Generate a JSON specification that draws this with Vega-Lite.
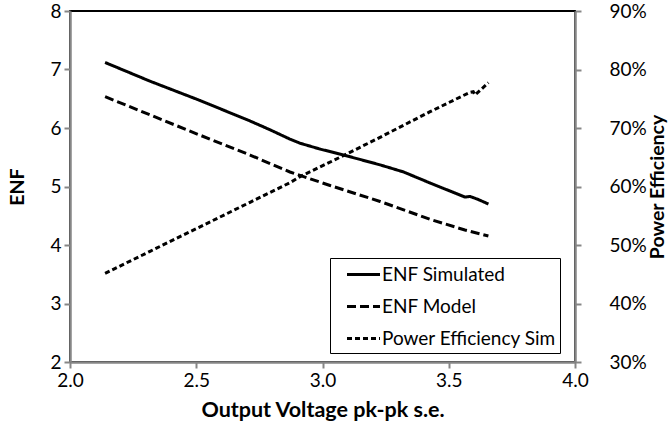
{
  "$schema": "https://vega.github.io/schema/vega-lite/v6.json",
  "width": 505,
  "height": 351,
  "autosize": {"type": "none"},
  "padding": {"left": 70, "top": 11, "right": 93, "bottom": 68},
  "background": "white",
  "config": {
    "font": "Lato",
    "view": {"stroke": "black", "strokeWidth": 2},
    "axis": {
      "grid": false,
      "labelFlush": false,
      "domainColor": "#868686",
      "domainWidth": 2.5,
      "tickColor": "#868686",
      "tickWidth": 2,
      "tickSize": 6,
      "labelColor": "black",
      "labelFont": "Lato",
      "labelFontSize": 19,
      "titleFont": "Lato",
      "titleFontSize": 19.5,
      "titleFontWeight": "bold",
      "titleColor": "black",
      "zindex": 1
    }
  },
  "datasets": {
    "curves": [
      {"series": "ENF Simulated", "volt": 2.139, "value": 7.12},
      {"series": "ENF Simulated", "volt": 2.317, "value": 6.80},
      {"series": "ENF Simulated", "volt": 2.515, "value": 6.47},
      {"series": "ENF Simulated", "volt": 2.713, "value": 6.12},
      {"series": "ENF Simulated", "volt": 2.792, "value": 5.97},
      {"series": "ENF Simulated", "volt": 2.871, "value": 5.81},
      {"series": "ENF Simulated", "volt": 2.911, "value": 5.74},
      {"series": "ENF Simulated", "volt": 2.990, "value": 5.64},
      {"series": "ENF Simulated", "volt": 3.082, "value": 5.54},
      {"series": "ENF Simulated", "volt": 3.228, "value": 5.37},
      {"series": "ENF Simulated", "volt": 3.320, "value": 5.25},
      {"series": "ENF Simulated", "volt": 3.426, "value": 5.06},
      {"series": "ENF Simulated", "volt": 3.564, "value": 4.82},
      {"series": "ENF Simulated", "volt": 3.584, "value": 4.83},
      {"series": "ENF Simulated", "volt": 3.616, "value": 4.78},
      {"series": "ENF Simulated", "volt": 3.657, "value": 4.70},
      {"series": "ENF Model", "volt": 2.139, "value": 6.535},
      {"series": "ENF Model", "volt": 2.317, "value": 6.224},
      {"series": "ENF Model", "volt": 2.515, "value": 5.877},
      {"series": "ENF Model", "volt": 2.713, "value": 5.538},
      {"series": "ENF Model", "volt": 2.871, "value": 5.248},
      {"series": "ENF Model", "volt": 3.030, "value": 5.017},
      {"series": "ENF Model", "volt": 3.228, "value": 4.744},
      {"series": "ENF Model", "volt": 3.426, "value": 4.439},
      {"series": "ENF Model", "volt": 3.564, "value": 4.256},
      {"series": "ENF Model", "volt": 3.657, "value": 4.154},
      {"series": "Power Efficiency Sim", "volt": 2.139, "value": 0.4516},
      {"series": "Power Efficiency Sim", "volt": 2.317, "value": 0.4892},
      {"series": "Power Efficiency Sim", "volt": 2.515, "value": 0.5311},
      {"series": "Power Efficiency Sim", "volt": 2.713, "value": 0.5730},
      {"series": "Power Efficiency Sim", "volt": 2.871, "value": 0.6065},
      {"series": "Power Efficiency Sim", "volt": 2.911, "value": 0.6168},
      {"series": "Power Efficiency Sim", "volt": 3.082, "value": 0.6526},
      {"series": "Power Efficiency Sim", "volt": 3.228, "value": 0.6841},
      {"series": "Power Efficiency Sim", "volt": 3.426, "value": 0.7279},
      {"series": "Power Efficiency Sim", "volt": 3.584, "value": 0.7610},
      {"series": "Power Efficiency Sim", "volt": 3.597, "value": 0.7621},
      {"series": "Power Efficiency Sim", "volt": 3.604, "value": 0.7564},
      {"series": "Power Efficiency Sim", "volt": 3.657, "value": 0.7774}
    ]
  },
  "data": {"name": "curves"},
  "encoding": {
    "x": {
      "field": "volt",
      "type": "quantitative",
      "scale": {"domain": [2, 4], "nice": false},
      "axis": {
        "title": "Output Voltage pk-pk s.e.",
        "titleFontSize": 21.5,
        "values": [2, 2.5, 3, 3.5, 4],
        "format": ".1f",
        "labelPadding": 3,
        "titlePadding": 9
      }
    },
    "strokeDash": {
      "field": "series",
      "type": "nominal",
      "scale": {
        "domain": ["ENF Simulated", "ENF Model", "Power Efficiency Sim"],
        "range": [[1, 0], [9, 4], [5, 3]]
      },
      "legend": {
        "title": null,
        "orient": "none",
        "legendX": 260,
        "legendY": 247,
        "direction": "vertical",
        "symbolType": "M-1.5,0H1.5",
        "symbolSize": 484,
        "symbolStrokeColor": "black",
        "symbolOffset": 17,
        "labelFont": "Lato",
        "labelFontSize": 19,
        "labelColor": "black",
        "labelOffset": 6,
        "labelLimit": 400,
        "labelExpr": "datum.label + '\u00a0\u00a0\u00a0'",
        "rowPadding": 9,
        "padding": 4,
        "strokeColor": "black",
        "fillColor": "white"
      }
    },
    "strokeWidth": {
      "field": "series",
      "type": "nominal",
      "scale": {
        "domain": ["ENF Simulated", "ENF Model", "Power Efficiency Sim"],
        "range": [3, 3, 2]
      },
      "legend": null
    }
  },
  "layer": [
    {
      "transform": [{"filter": "datum.series !== 'Power Efficiency Sim'"}],
      "mark": {"type": "line", "color": "black", "strokeCap": "butt"},
      "encoding": {
        "y": {
          "field": "value",
          "type": "quantitative",
          "scale": {"domain": [2, 8], "nice": false},
          "axis": {
            "title": "ENF",
            "orient": "left",
            "values": [2, 3, 4, 5, 6, 7, 8],
            "labelPadding": 3,
            "titlePadding": 22
          }
        }
      }
    },
    {
      "transform": [{"filter": "datum.series === 'Power Efficiency Sim'"}],
      "mark": {"type": "line", "color": "black", "strokeCap": "butt"},
      "encoding": {
        "y": {
          "field": "value",
          "type": "quantitative",
          "scale": {"domain": [0.3, 0.9], "nice": false},
          "axis": {
            "title": "Power Efficiency",
            "orient": "right",
            "format": ".0%",
            "values": [0.3, 0.4, 0.5, 0.6, 0.7, 0.8, 0.9],
            "labelPadding": 28,
            "titleAngle": 270,
            "titleBaseline": "top",
            "titlePadding": 2
          }
        }
      }
    }
  ],
  "resolve": {"scale": {"y": "independent"}}
}
